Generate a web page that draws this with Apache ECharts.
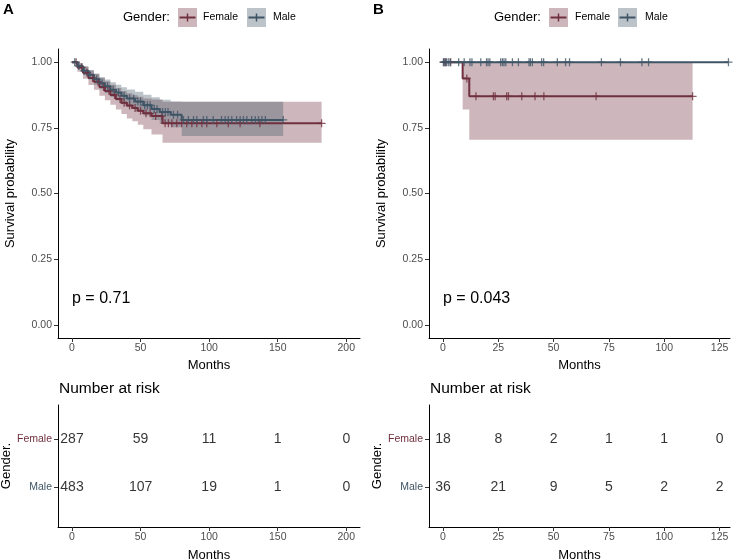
<!DOCTYPE html>
<html>
<head>
<meta charset="utf-8">
<script src="https://cdn.jsdelivr.net/npm/echarts@6/dist/echarts.min.js"></script>
<style>
html,body{margin:0;padding:0;background:#fff;}
#chart{width:733px;height:560px;}
</style>
</head>
<body>
<div id="chart"></div>
<script>
// ---- panel A : KM steps (months, survival, 95% CI) ----
var timesFemaleA = [0, 4, 8, 12, 16, 20, 24, 28, 32, 36, 40, 44, 48, 52, 58, 66, 182];
var survFemaleA  = [1, 0.98, 0.96, 0.94, 0.925, 0.905, 0.89, 0.875, 0.86, 0.845, 0.835, 0.825, 0.815, 0.805, 0.795, 0.767, 0.767];
var lowerFemaleA = [1, 0.963, 0.937, 0.913, 0.895, 0.872, 0.855, 0.838, 0.82, 0.803, 0.785, 0.775, 0.762, 0.745, 0.725, 0.693, 0.693];
var upperFemaleA = [1, 0.996, 0.984, 0.968, 0.956, 0.94, 0.927, 0.914, 0.902, 0.89, 0.882, 0.874, 0.868, 0.862, 0.858, 0.849, 0.849];
var censorFemaleA = [3, 7, 11, 15, 19, 23, 27, 31, 35, 38, 42, 46, 50, 54, 57, 61, 65.5, 67.9, 70.3, 72.8, 76.4, 80, 83.7, 87.4, 91, 94.7, 98.3, 105.6, 114, 122.6, 137, 182];

var timesMaleA = [0, 4, 8, 12, 16, 20, 24, 28, 32, 36, 40, 46, 52, 58, 64, 72, 80, 154];
var survMaleA  = [1, 0.985, 0.967, 0.952, 0.935, 0.92, 0.908, 0.895, 0.884, 0.872, 0.862, 0.85, 0.836, 0.822, 0.81, 0.80, 0.78, 0.78];
var lowerMaleA = [1, 0.974, 0.952, 0.934, 0.914, 0.897, 0.882, 0.867, 0.854, 0.84, 0.828, 0.813, 0.797, 0.78, 0.765, 0.752, 0.719, 0.719];
var upperMaleA = [1, 0.996, 0.982, 0.97, 0.956, 0.943, 0.934, 0.923, 0.914, 0.904, 0.896, 0.887, 0.876, 0.866, 0.857, 0.85, 0.849, 0.849];
var censorMaleA = [2, 5, 9, 13, 18, 22, 26, 30, 34, 38, 42, 45, 48, 50, 53, 55, 57, 60, 62, 66, 68, 70, 74, 77, 81.3, 84.9, 88.6, 91, 95.8, 98.3, 103, 109, 111.7, 114, 116.5, 120, 122.6, 125, 127.5, 131, 133.6, 136, 138.5, 141, 154];

var riskTimesA = [0, 50, 100, 150, 200];
var riskFemaleA = [287, 59, 11, 1, 0];
var riskMaleA = [483, 107, 19, 1, 0];

// ---- panel B ----
var timesFemaleB = [0, 8.9, 11.9, 112.8];
var survFemaleB  = [1, 0.938, 0.87, 0.87];
var lowerFemaleB = [1, 0.82, 0.705, 0.705];
var upperFemaleB = [1, 1, 1, 1];
var censorFemaleB = [0.5, 1.2, 3.5, 10.8, 14.9, 22.8, 23.6, 28.8, 29.6, 35.6, 41.6, 45.6, 69.2, 112.8];

var timesMaleB = [0, 129];
var survMaleB  = [1, 1];
var censorMaleB = [0.2, 0.9, 1.6, 2.4, 3.2, 7.1, 9.6, 12.2, 13.1, 17.1, 19.7, 20.4, 21.2, 26.1, 26.9, 27.6, 28.4, 31.4, 34.1, 38.9, 39.5, 40.4, 44.6, 45.5, 51.7, 55.4, 57.2, 71.6, 80.2, 89.9, 92.9, 129];

var riskTimesB = [0, 25, 50, 75, 100, 125];
var riskFemaleB = [18, 8, 2, 1, 1, 0];
var riskMaleB = [36, 21, 9, 5, 2, 2];

var yTicks = [0, 0.25, 0.5, 0.75, 1];
var groupNames = ['Male', 'Female']; // table rows 1, 2

var FONT = 'Liberation Sans, Arial, sans-serif';
var FEMALE = '#70303F', MALE = '#3F5566';
var FEMALE_FILL = 'rgba(112,48,63,0.35)', MALE_FILL = 'rgba(63,85,102,0.35)';

function pairs(xs, ys) { return xs.map(function (x, i) { return [x, ys[i]]; }); }
function survAt(times, surv, t) {
  var s = surv[0];
  for (var i = 0; i < times.length; i++) if (times[i] <= t) s = surv[i];
  return s;
}
function censorPts(cens, times, surv) {
  return cens.map(function (t) { return [t, survAt(times, surv, t)]; });
}
function riskPts(ts, counts, row) {
  return ts.map(function (t, i) { return [t, row, counts[i]]; });
}

// CI band: one stepped polygon built from [time, lower, upper] through the axis scales
function band(times, lo, up, fill, xi) {
  var data = times.map(function (t, i) { return [t, lo[i], up[i]]; });
  return {
    type: 'custom', xAxisIndex: xi, yAxisIndex: xi, z: 1, silent: true, data: data,
    encode: { x: 0, y: [1, 2] },
    renderItem: function (params, api) {
      if (params.dataIndex !== 0) return;
      var top = [], bot = [];
      for (var i = 0; i < data.length; i++) {
        var t0 = data[i][0], t1 = i + 1 < data.length ? data[i + 1][0] : data[i][0];
        top.push(api.coord([t0, data[i][2]]), api.coord([t1, data[i][2]]));
        bot.push(api.coord([t0, data[i][1]]), api.coord([t1, data[i][1]]));
      }
      return { type: 'polygon', shape: { points: top.concat(bot.reverse()) }, style: { fill: fill } };
    }
  };
}
function curve(times, surv, color, xi) {
  return { type: 'line', step: 'end', xAxisIndex: xi, yAxisIndex: xi, showSymbol: false,
    lineStyle: { color: color, width: 2 }, data: pairs(times, surv), z: 3 };
}
var PLUS = 'path://M4.2,0h1.6v10h-1.6z M0,4.2h10v1.6h-10z';
function censors(pts, color, xi) {
  return { type: 'scatter', xAxisIndex: xi, yAxisIndex: xi, symbol: PLUS, symbolSize: 8,
    itemStyle: { color: color }, data: pts, z: 4 };
}
function table(pts, xi) {
  return { type: 'scatter', xAxisIndex: xi, yAxisIndex: xi, symbolSize: 1,
    itemStyle: { color: 'rgba(0,0,0,0)' }, data: pts, z: 5,
    label: { show: true, position: 'inside', color: '#000', fontSize: 14, fontFamily: FONT,
      formatter: function (p) { return p.value[2]; } } };
}

function xAxis(gi, min, max, ticks, gap) {
  return { type: 'value', gridIndex: gi, min: min, max: max,
    name: 'Months', nameLocation: 'middle', nameGap: gap,
    nameTextStyle: { color: '#000', fontSize: 13, fontFamily: FONT },
    axisLine: { show: true, onZero: false, lineStyle: { color: '#000', width: 1 } },
    axisTick: { show: true, length: 4, customValues: ticks, lineStyle: { color: '#333' } },
    axisLabel: { customValues: ticks, margin: 5, color: '#4D4D4D', fontSize: 10.5, fontFamily: FONT },
    splitLine: { show: false } };
}
function yAxisMain(gi) {
  return { type: 'value', gridIndex: gi, min: -0.05, max: 1.05,
    name: 'Survival probability', nameLocation: 'middle', nameGap: 41,
    nameTextStyle: { color: '#000', fontSize: 13, fontFamily: FONT },
    axisLine: { show: true, onZero: false, lineStyle: { color: '#000', width: 1 } },
    axisTick: { show: true, length: 4, customValues: yTicks, lineStyle: { color: '#333' } },
    axisLabel: { customValues: yTicks, margin: 6, color: '#4D4D4D', fontSize: 10.5, fontFamily: FONT,
      formatter: function (v) { return v.toFixed(2); } },
    splitLine: { show: false } };
}
function yAxisTable(gi) {
  return { type: 'value', gridIndex: gi, min: 0.167, max: 2.708,
    name: 'Gender.', nameLocation: 'middle', nameGap: 38,
    nameTextStyle: { color: '#000', fontSize: 13, fontFamily: FONT },
    axisLine: { show: true, onZero: false, lineStyle: { color: '#000', width: 1 } },
    axisTick: { show: true, length: 4, customValues: [1, 2], lineStyle: { color: '#333' } },
    axisLabel: { customValues: [1, 2], margin: 6, fontSize: 10.5, fontFamily: FONT,
      color: function (v) { return v > 1.5 ? FEMALE : MALE; },
      formatter: function (v) { return groupNames[Math.round(v) - 1]; } },
    splitLine: { show: false } };
}

function txt(x, y, s, size, extra) {
  var style = { text: s, fill: '#000', fontSize: size, fontFamily: FONT, verticalAlign: 'middle' };
  for (var k in extra) style[k] = extra[k];
  return { type: 'text', x: x, y: y, style: style, z: 10 };
}
function key(x, fill, color) {
  return [
    { type: 'rect', shape: { x: x, y: 8, width: 19, height: 19 }, style: { fill: fill }, z: 10 },
    { type: 'line', shape: { x1: x + 1.5, y1: 17.5, x2: x + 17.5, y2: 17.5 }, style: { stroke: color, lineWidth: 2 }, z: 11 },
    { type: 'line', shape: { x1: x + 9.5, y1: 13.5, x2: x + 9.5, y2: 21.5 }, style: { stroke: color, lineWidth: 1.5 }, z: 11 }
  ];
}

var myChart = echarts.init(document.getElementById('chart'));
var option = {
  animation: false,
  backgroundColor: '#fff',
  // fixed grid boxes, no auto-shrinking to fit labels
  grid: [
    { left: 58, top: 49, width: 302, height: 289, outerBoundsMode: 'none', containLabel: false },
    { left: 429, top: 49, width: 301, height: 289, outerBoundsMode: 'none', containLabel: false },
    { left: 58, top: 405, width: 302, height: 122, outerBoundsMode: 'none', containLabel: false },
    { left: 429, top: 405, width: 301, height: 122, outerBoundsMode: 'none', containLabel: false }
  ],
  xAxis: [
    xAxis(0, -10.2, 210, riskTimesA, 15),
    xAxis(1, -6.3, 129.7, riskTimesB, 15),
    xAxis(2, -10.2, 210, riskTimesA, 22),
    xAxis(3, -6.3, 129.7, riskTimesB, 22)
  ],
  yAxis: [yAxisMain(0), yAxisMain(1), yAxisTable(2), yAxisTable(3)],
  series: [
    band(timesFemaleA, lowerFemaleA, upperFemaleA, FEMALE_FILL, 0),
    band(timesMaleA, lowerMaleA, upperMaleA, MALE_FILL, 0),
    curve(timesFemaleA, survFemaleA, FEMALE, 0),
    curve(timesMaleA, survMaleA, MALE, 0),
    censors(censorPts(censorFemaleA, timesFemaleA, survFemaleA), FEMALE, 0),
    censors(censorPts(censorMaleA, timesMaleA, survMaleA), MALE, 0),
    band(timesFemaleB, lowerFemaleB, upperFemaleB, FEMALE_FILL, 1),
    curve(timesFemaleB, survFemaleB, FEMALE, 1),
    censors(censorPts(censorFemaleB, timesFemaleB, survFemaleB), FEMALE, 1),
    curve(timesMaleB, survMaleB, MALE, 1),
    censors(censorPts(censorMaleB, timesMaleB, survMaleB), MALE, 1),
    table(riskPts(riskTimesA, riskFemaleA, 2), 2),
    table(riskPts(riskTimesA, riskMaleA, 1), 2),
    table(riskPts(riskTimesB, riskFemaleB, 2), 3),
    table(riskPts(riskTimesB, riskMaleB, 1), 3)
  ],
  graphic: [].concat(
    [txt(3, 9.5, 'A', 15, { fontWeight: 'bold' }),
     txt(373, 9.5, 'B', 15, { fontWeight: 'bold' }),
     txt(123, 17.5, 'Gender:', 13, {}),
     txt(203, 17.5, 'Female', 10.5, {}),
     txt(273, 17.5, 'Male', 10.5, {}),
     txt(494, 17.5, 'Gender:', 13, {}),
     txt(575, 17.5, 'Female', 10.5, {}),
     txt(645, 17.5, 'Male', 10.5, {}),
     txt(72, 299, 'p = 0.71', 16, {}),
     txt(443, 299, 'p = 0.043', 16, {}),
     txt(59, 389, 'Number at risk', 15.5, {}),
     txt(430, 389, 'Number at risk', 15.5, {})],
    key(178, FEMALE_FILL, FEMALE), key(247, MALE_FILL, MALE),
    key(549, FEMALE_FILL, FEMALE), key(618, MALE_FILL, MALE)
  )
};
myChart.setOption(option);
window.addEventListener('resize', function () { myChart.resize(); });
</script>
</body>
</html>
